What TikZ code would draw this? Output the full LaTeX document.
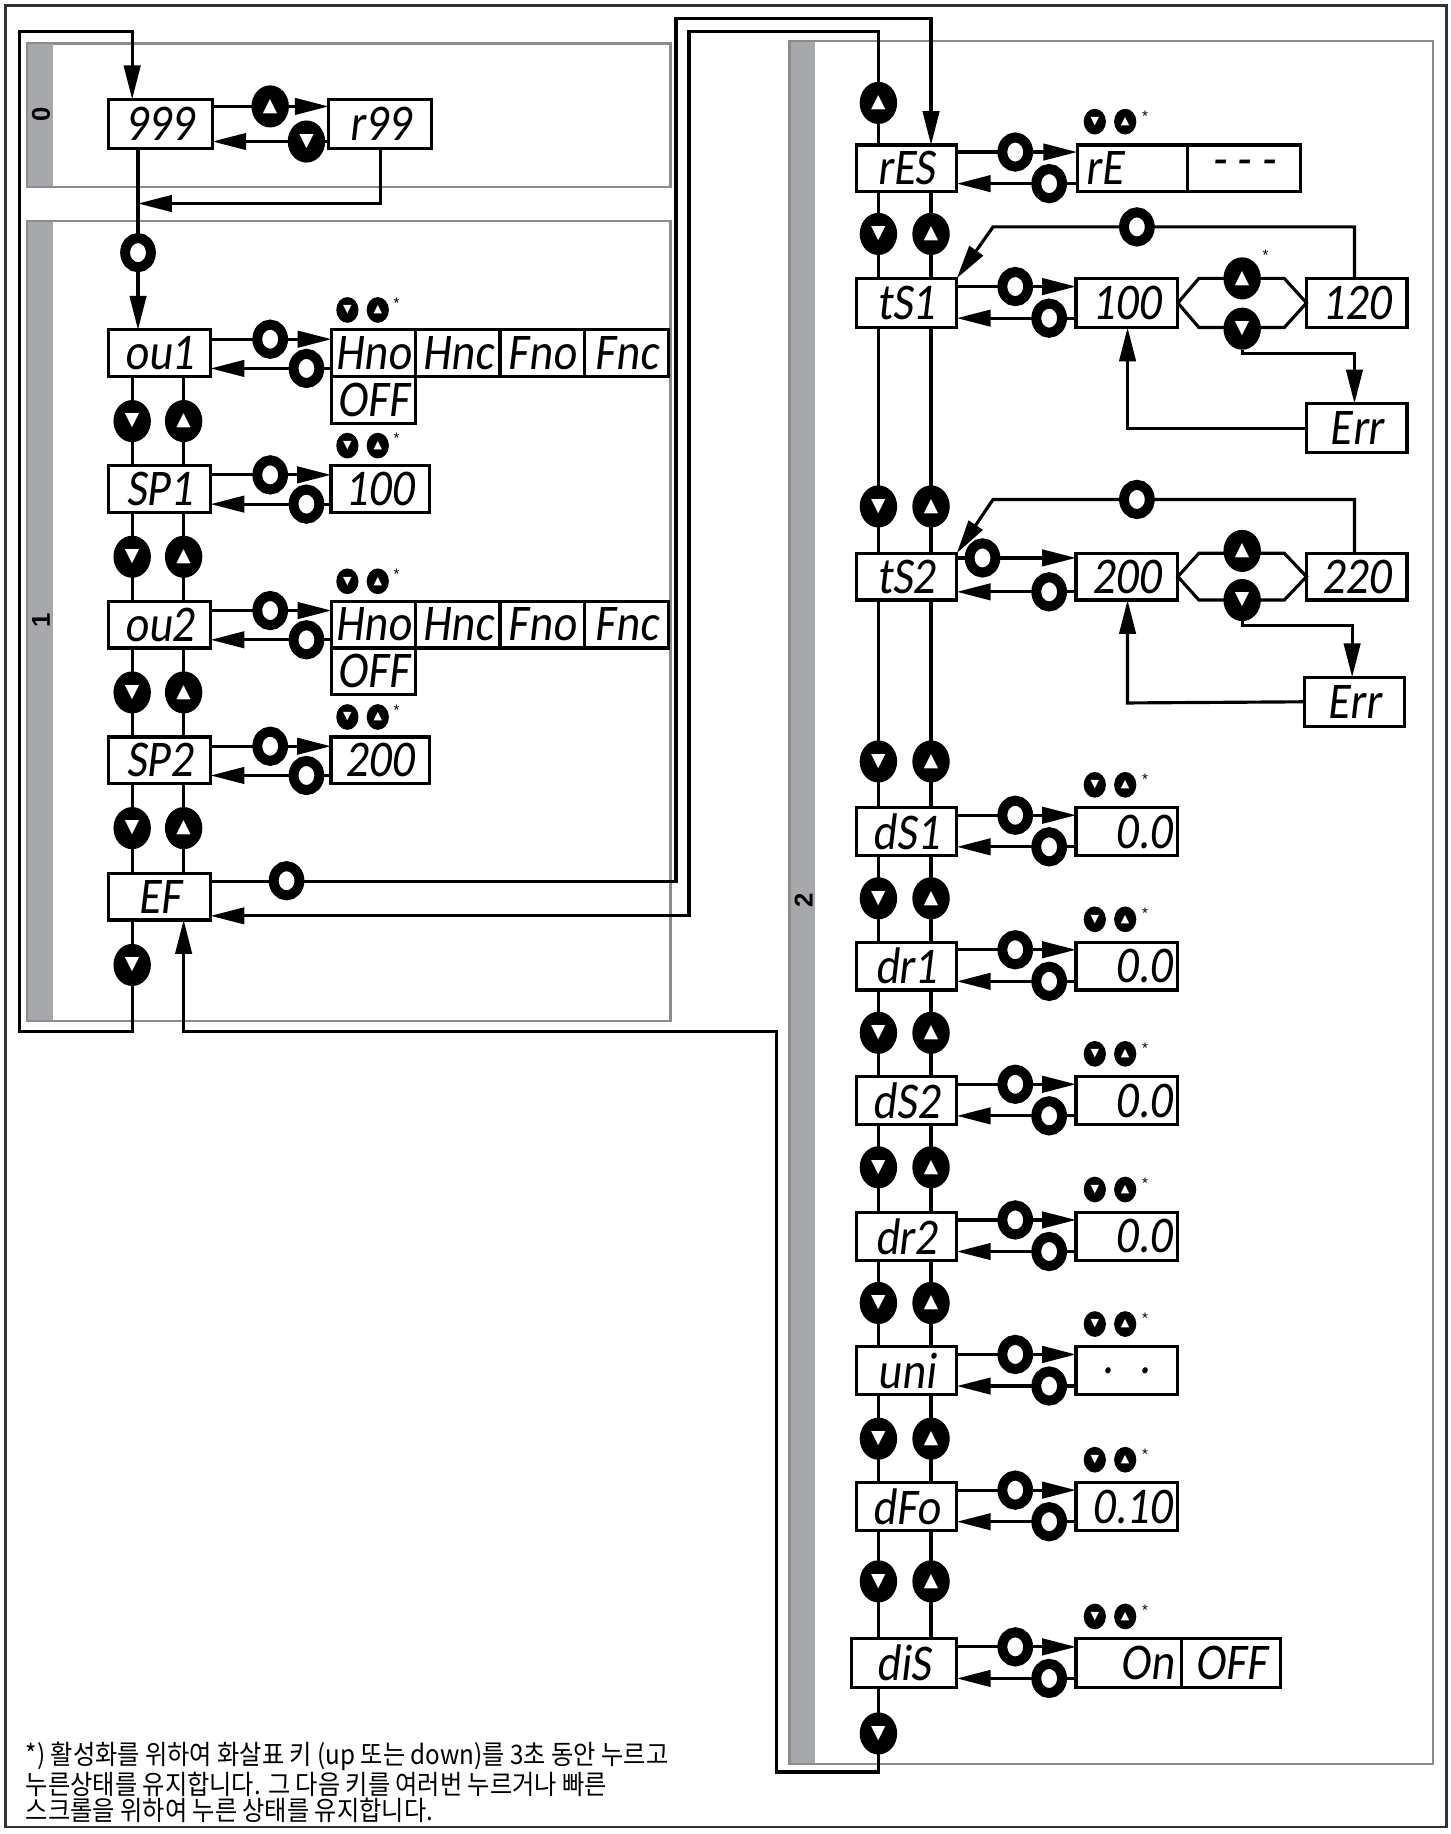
\documentclass[tikz,border=0pt]{standalone}
\usepackage{fontspec}
\newfontfamily\segfont[FakeSlant=0.12,FakeStretch=0.88]{Carlito}
\newfontfamily\keyfont{DejaVu Sans}
\newfontfamily\tagfont{Liberation Sans}
\newfontfamily\korfont[FakeStretch=0.9]{Noto Sans CJK KR}
\usetikzlibrary{shapes.geometric}
\usetikzlibrary{arrows.meta}
\usetikzlibrary{positioning}
\usetikzlibrary{backgrounds}
\definecolor{panelgray}{RGB}{140,140,140}
\definecolor{stripgray}{RGB}{166,168,171}
\definecolor{framegray}{RGB}{50,50,50}

\begin{document}
\begin{tikzpicture}[x=1pt,y=-1pt,
    lcd/.style={draw, line width=2.8pt, outer sep=0pt, inner sep=0pt,
      minimum width=86pt, minimum height=41pt,
      font=\segfont\fontsize{44}{44}\selectfont},
    opt/.style={lcd, minimum width=72pt, minimum height=40pt},
    val/.style={lcd, text width=78pt, align=right},
    link/.style={line width=2.7pt},
    arr/.style={link, -{Triangle[length=29pt,width=14pt]}},
    keyup/.style={ellipse, fill=black, inner sep=0pt, minimum width=32pt,
      minimum height=36pt, text=white, font=\keyfont\fontsize{16}{16}\selectfont},
    keydn/.style={keyup},
    setkey/.style={ellipse, draw=black, fill=white, line width=8.5pt,
      inner sep=0pt, minimum width=22pt, minimum height=25pt},
    smallkey/.style={keyup, minimum width=19pt, minimum height=22pt,
      font=\keyfont\fontsize{9.5}{9.5}\selectfont},
    star/.style={inner sep=0pt, font=\tagfont\fontsize{13}{13}\selectfont},
    panel/.style={draw=panelgray, line width=2.2pt},
    strip/.style={fill=stripgray},
    tag/.style={rotate=90, font=\tagfont\bfseries\fontsize{22}{22}\selectfont}]
  \useasboundingbox (0,0) rectangle (1240,1568);
  \begin{scope}[on background layer]
    \draw[line width=2.5pt, draw=framegray] (5,5) rectangle (1237,1562);
    \draw[panel] (23,37) rectangle (573,160);
    \fill[strip] (24,38) rectangle (45,159);
    \draw[panel] (23,189) rectangle (573,873);
    \fill[strip] (24,190) rectangle (45,872);
    \draw[panel] (675,35) rectangle (1225,1508);
    \fill[strip] (676,36) rectangle (697,1507);
  \end{scope}
  \node[tag] (tag0) at (35,98) {0};
  \node[tag] (tag1) at (35,530) {1};
  \node[tag] (tag2) at (687,770) {2};

  % menu 0
  \node[lcd, minimum width=89pt, minimum height=42pt] (c999) at (137,106) {999};
  \node[lcd, minimum width=88pt, minimum height=42pt] (r99) at (325,106) {r99};
  \node[keyup] (k0u) at (231,91) {▲};
  \node[keydn] (k0d) at (262,121) {▼};

  % menu 1
  \foreach \n/\t/\y in {ou1/ou1/302, sp1/SP1/418, ou2/ou2/534, sp2/SP2/650, ef/EF/766.5}
    \node[lcd, minimum width=87pt, minimum height=40pt] (\n) at (136.5,\y) {\t};
  \node[opt] (hno1) at (319.5,302) {Hno};
  \node[opt, right=0pt of hno1] (hnc1) {Hnc};
  \node[opt, right=0pt of hnc1] (fno1) {Fno};
  \node[opt, right=0pt of fno1] (fnc1) {Fnc};
  \node[opt, below=0pt of hno1] (off1) {OFF};
  \node[opt] (hno2) at (319.5,534) {Hno};
  \node[opt, right=0pt of hno2] (hnc2) {Hnc};
  \node[opt, right=0pt of hnc2] (fno2) {Fno};
  \node[opt, right=0pt of fno2] (fnc2) {Fnc};
  \node[opt, below=0pt of hno2] (off2) {OFF};
  \node[lcd, minimum width=84pt, minimum height=40pt] (v100) at (325,418) {100};
  \node[lcd, minimum width=84pt, minimum height=40pt] (v200) at (325,650) {200};
  \node[setkey] (k1s) at (118,216) {};
  \foreach \y in {360,476,592,708} {
    \node[keydn] at (113,\y) {▼};
    \node[keyup] at (157,\y) {▲};
  }
  \node[keydn] (kefd) at (113,825) {▼};
  \node[setkey] (kefs) at (245,753) {};
  \foreach \y in {302,418,534,650} {
    \node[setkey] at (231,\y-12) {};
    \node[setkey] at (262,\y+13) {};
    \node[smallkey] at (297,\y-37) {▼};
    \node[smallkey] at (323,\y-37) {▲};
    \node[star] at (339,\y-43) {*};
  }

  % menu 2
  \node[keyup] (k2top) at (751,88) {▲};
  \node[lcd, minimum height=40pt] (res) at (775,144) {rES};
  \node[lcd, minimum width=94pt, minimum height=40pt, text width=80pt, align=left] (re) at (968,144) {rE};
  \node[lcd, minimum width=97pt, minimum height=40pt, right=0pt of re] (dash) {- - -};
  \node[lcd, minimum height=42pt] (ts1) at (775,259) {tS1};
  \node[lcd, minimum width=87pt, minimum height=42pt] (t100) at (963.5,259) {100};
  \node[lcd, minimum height=42pt] (t120) at (1160,259) {120};
  \node[lcd, minimum height=42pt] (err1) at (1160,366) {Err};
  \node[lcd, minimum height=40pt] (ts2) at (775,493) {tS2};
  \node[lcd, minimum width=87pt, minimum height=40pt] (t200) at (963.5,493) {200};
  \node[lcd, minimum height=40pt] (t220) at (1160,493) {220};
  \node[lcd, minimum height=42pt] (err2) at (1158,600) {Err};
  \foreach \n/\t/\v/\al/\y in {ds1/dS1/0.0/right/711, dr1/dr1/0.0/right/826,
      ds2/dS2/0.0/right/941, dr2/dr2/0.0/right/1057, uni/uni/. ./center/1172,
      dfo/dFo/0.10/right/1288} {
    \node[lcd] (\n) at (775,\y) {\t};
    \node[val, align=\al, minimum width=87pt] (v\n) at (963.5,\y) {\v};
  }
  \node[lcd, minimum width=90pt, minimum height=42pt] (dis) at (773,1422) {diS};
  \node[val, minimum width=90pt, minimum height=42pt] (on) at (965,1422) {On};
  \node[lcd, minimum width=85pt, minimum height=42pt, right=0pt of on] (off3) {OFF};
  \foreach \y in {200,433,651,768,883,998,1114,1230,1352} {
    \node[keydn] at (751,\y) {▼};
    \node[keyup] at (796,\y) {▲};
  }
  \node[keydn] (kdisd) at (751,1482) {▼};
  \foreach \y in {144,259,711,826,941,1057,1172,1288,1422} {
    \node[setkey] at (868,\y-14) {};
    \node[setkey] at (897,\y+13) {};
  }
  \node[setkey] at (840,477) {};
  \node[setkey] at (897,506) {};
  \foreach \y in {144,711,826,941,1057,1172,1288,1422} {
    \node[smallkey] at (936,\y-40) {▼};
    \node[smallkey] at (962,\y-40) {▲};
    \node[star] at (979,\y-45) {*};
  }
  \node[keyup] (h1u) at (1062,238) {▲};
  \node[keydn] (h1d) at (1062,281) {▼};
  \node[star] at (1082,218) {*};
  \node[setkey] (h1s) at (972,194) {};
  \node[keyup] (h2u) at (1062,471) {▲};
  \node[keydn] (h2d) at (1062,513) {▼};
  \node[setkey] (h2s) at (972,427) {};

  % footnote
  \node[anchor=north west, align=left, inner sep=0pt,
    font=\korfont\fontsize{23}{22.5}\selectfont] (note) at (22,1489)
    {*) 활성화를 위하여 화살표 키 (up 또는 down)를 3초 동안 누르고\\
     누른상태를 유지합니다. 그 다음 키를 여러번 누르거나 빠른\\
     스크롤을 위하여 누른 상태를 유지합니다.};

  \begin{scope}[on background layer]
    % menu 0 links
    \draw[arr] (ef.south -| 113,0) -- (113,882) -- (17,882) -- (17,27) -- (113,27)
      -- (c999.north -| 113,0);
    \draw[arr] ([yshift=15pt]c999.east) -- ([yshift=15pt]r99.west);
    \draw[arr] ([yshift=-15pt]r99.west) -- ([yshift=-15pt]c999.east);
    \draw[arr] (r99.south) -- (325,174) -- (118,174);
    \draw[arr] (c999.south -| 118,0) -- (ou1.north -| 118,0);
    % menu 1 links
    \foreach \a/\b in {ou1/sp1, sp1/ou2, ou2/sp2, sp2/ef} {
      \draw[link] (\a.south -| 113,0) -- (\b.north -| 113,0);
      \draw[link] (\a.south -| 157,0) -- (\b.north -| 157,0);
    }
    \foreach \a/\b in {ou1/hno1, sp1/v100, ou2/hno2, sp2/v200} {
      \draw[arr] ([yshift=12pt]\a.east) -- ([yshift=12pt]\b.west);
      \draw[arr] ([yshift=-13pt]\b.west) -- ([yshift=-13pt]\a.east);
    }
    \draw[arr] ([yshift=13pt]ef.east) -- (578,753.5) -- (578,16) -- (796,16)
      -- (res.north -| 796,0);
    \draw[arr] (res.north -| 751,0) -- (751,27) -- (589,27) -- (589,783)
      -- ([yshift=-16.5pt]ef.east);
    \draw[arr] (dis.south -| 751,0) -- (751,1515) -- (664,1515) -- (664,882)
      -- (157,882) -- (ef.south -| 157,0);
    % menu 2 links
    \foreach \a/\b in {res/ts1, ts1/ts2, ts2/ds1, ds1/dr1, dr1/ds2, ds2/dr2,
        dr2/uni, uni/dfo, dfo/dis} {
      \draw[link] (\a.south -| 751,0) -- (\b.north -| 751,0);
      \draw[link] (\a.south -| 796,0) -- (\b.north -| 796,0);
    }
    \foreach \a/\b in {res/re, ts1/t100, ds1/vds1, dr1/vdr1, ds2/vds2, dr2/vdr2,
        uni/vuni, dfo/vdfo, dis/on} {
      \draw[arr] ([yshift=14pt]\a.east) -- ([yshift=14pt]\b.west);
      \draw[arr] ([yshift=-13pt]\b.west) -- ([yshift=-13pt]\a.east);
    }
    \draw[arr] ([yshift=16pt]ts2.east) -- ([yshift=16pt]t200.west);
    \draw[arr] ([yshift=-13pt]t200.west) -- ([yshift=-13pt]ts2.east);
    % tS1 loop
    \draw[link] (t100.east) -- (1025,238) -- (1098,238) -- (t120.west)
      -- (1098,280) -- (1025,280) -- cycle;
    \draw[arr] (h1d.south) -- (1062,302) -- (1158,302) -- (err1.north -| 1158,0);
    \draw[arr] (err1.west) -- (964,366) -- (t100.south -| 964,0);
    \draw[arr] (t120.north -| 1158,0) -- (1158,194) -- (849,194) -- (ts1.north east);
    % tS2 loop
    \draw[link] (t200.east) -- (1025,473) -- (1098,473) -- (t220.west)
      -- (1098,513) -- (1025,513) -- cycle;
    \draw[arr] (h2d.south) -- (1062,535) -- (1156,535) -- (err2.north -| 1156,0);
    \draw[arr] (err2.west) -- (964,601) -- (t200.south -| 964,0);
    \draw[arr] (t220.north -| 1158,0) -- (1158,427) -- (849,427) -- (ts2.north east);
  \end{scope}
\end{tikzpicture}
\end{document}
